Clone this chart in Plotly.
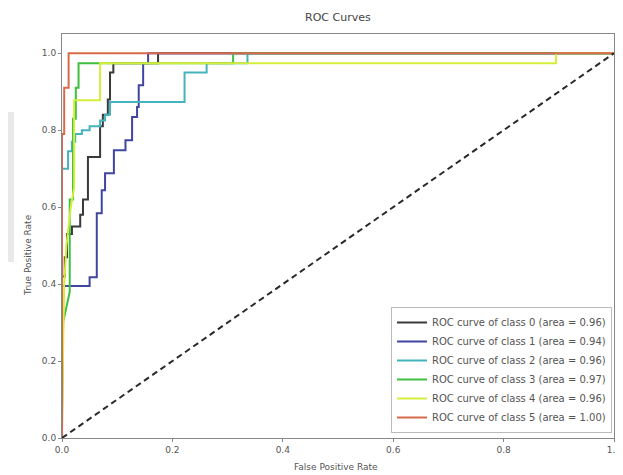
import plotly.graph_objects as go

# ---- data ----
fpr_0 = [0, 0, 0.005, 0.005, 0.009, 0.009, 0.018, 0.018, 0.033, 0.033, 0.038, 0.038, 0.047, 0.047,
         0.069, 0.069, 0.074, 0.074, 0.083, 0.083, 0.087, 0.087, 0.093, 0.093, 0.174, 0.174, 1.0]
tpr_0 = [0, 0.42, 0.42, 0.47, 0.47, 0.53, 0.53, 0.55, 0.55, 0.58, 0.58, 0.62, 0.62, 0.73,
         0.73, 0.81, 0.81, 0.84, 0.84, 0.88, 0.88, 0.95, 0.95, 0.974, 0.974, 1.0, 1.0]

fpr_1 = [0, 0, 0.05, 0.05, 0.063, 0.063, 0.072, 0.072, 0.078, 0.078, 0.094, 0.094, 0.115, 0.115,
         0.127, 0.127, 0.136, 0.136, 0.139, 0.139, 0.147, 0.147, 0.156, 0.156, 1.0]
tpr_1 = [0, 0.395, 0.395, 0.418, 0.418, 0.584, 0.584, 0.644, 0.644, 0.688, 0.688, 0.748, 0.748, 0.774,
         0.774, 0.834, 0.834, 0.86, 0.86, 0.917, 0.917, 0.974, 0.974, 1.0, 1.0]

fpr_2 = [0, 0, 0.011, 0.011, 0.018, 0.018, 0.024, 0.024, 0.036, 0.036, 0.05, 0.05, 0.069, 0.069,
         0.078, 0.078, 0.087, 0.087, 0.222, 0.222, 0.262, 0.262, 0.336, 0.336, 1.0]
tpr_2 = [0, 0.70, 0.70, 0.745, 0.745, 0.77, 0.77, 0.79, 0.79, 0.80, 0.80, 0.81, 0.81, 0.825,
         0.825, 0.84, 0.84, 0.873, 0.873, 0.95, 0.95, 0.974, 0.974, 1.0, 1.0]

fpr_3 = [0, 0.002, 0.008, 0.014, 0.014, 0.02, 0.02, 0.025, 0.025, 0.03, 0.03, 0.31, 0.31, 1.0]
tpr_3 = [0, 0.30, 0.34, 0.38, 0.62, 0.62, 0.83, 0.83, 0.91, 0.91, 0.974, 0.974, 1.0, 1.0]

fpr_4 = [0, 0, 0.004, 0.008, 0.016, 0.022, 0.022, 0.069, 0.069, 0.895, 0.895, 1.0]
tpr_4 = [0, 0.06, 0.40, 0.50, 0.60, 0.65, 0.878, 0.878, 0.974, 0.974, 1.0, 1.0]

fpr_5 = [0, 0, 0.004, 0.004, 0.012, 0.012, 1.0]
tpr_5 = [0, 0.79, 0.79, 0.91, 0.91, 1.0, 1.0]

class_labels = ["0", "1", "2", "3", "4", "5"]
areas = ["0.96", "0.94", "0.96", "0.97", "0.96", "1.00"]
diag_x = [0, 1]
diag_y = [0, 1]
tick_vals = [0.0, 0.2, 0.4, 0.6, 0.8, 1.0]
tick_text = ["0.0", "0.2", "0.4", "0.6", "0.8", "1.0"]

colors = ["#3a3a3a", "#3f45a0", "#45b3bd", "#3fbf3f", "#d5ee3c", "#d8694a"]

fprs = [fpr_0, fpr_1, fpr_2, fpr_3, fpr_4, fpr_5]
tprs = [tpr_0, tpr_1, tpr_2, tpr_3, tpr_4, tpr_5]

FONT = "DejaVu Sans"

fig = go.Figure()
for i in range(6):
    fig.add_trace(go.Scatter(
        x=fprs[i], y=tprs[i], mode="lines",
        line=dict(color=colors[i], width=2),
        name=f"ROC curve of class {class_labels[i]} (area = {areas[i]})",
    ))
fig.add_trace(go.Scatter(
    x=diag_x, y=diag_y, mode="lines",
    line=dict(color="#2a2a2a", width=2, dash="6px,4px"),
    showlegend=False, hoverinfo="skip",
))

# page body has an 8px margin: figure is drawn at screen offset (8, 8)
OFF = 8
W, H = 623 - 2 * OFF, 475 - OFF
L, R, T, B = 62 - OFF, 1, 34 - OFF, 37

def px_to_paper_x(sx):
    return (sx - OFF - L) / (W - L - R)

def px_to_paper_y(sy):
    return (H - B - (sy - OFF)) / (H - T - B)

fig.update_layout(
    width=W, height=H,
    margin=dict(l=L, r=R, t=T, b=B),
    paper_bgcolor="white", plot_bgcolor="white",
    font=dict(family=FONT, size=9, color="#555555"),
    showlegend=True,
    legend=dict(
        x=px_to_paper_x(612), xanchor="right",
        y=px_to_paper_y(433), yanchor="bottom",
        bgcolor="white", bordercolor="#bbbbbb", borderwidth=1,
        font=dict(family=FONT, size=10, color="#555555"),
        tracegroupgap=0, itemwidth=30,
    ),
    annotations=[
        dict(text="ROC Curves", x=px_to_paper_x(338), xref="paper", y=px_to_paper_y(18), yref="paper",
             showarrow=False, font=dict(family=FONT, size=11, color="#444444"),
             xanchor="center", yanchor="middle"),
        dict(text="False Positive Rate", x=px_to_paper_x(336), xref="paper",
             y=px_to_paper_y(467), yref="paper", showarrow=False,
             font=dict(family=FONT, size=9, color="#555555"), xanchor="center", yanchor="middle"),
        dict(text="True Positive Rate", x=px_to_paper_x(28), xref="paper",
             y=px_to_paper_y(255), yref="paper", showarrow=False, textangle=-90,
             font=dict(family=FONT, size=9, color="#555555"), xanchor="center", yanchor="middle"),
    ],
    shapes=[
        dict(type="rect", xref="paper", yref="paper",
             x0=px_to_paper_x(OFF), x1=px_to_paper_x(14),
             y0=px_to_paper_y(262), y1=px_to_paper_y(112),
             fillcolor="#e9e9e9", line=dict(width=0), layer="below"),
    ],
)
fig.update_xaxes(
    range=[0, 1], tickvals=tick_vals, ticktext=tick_text,
    showgrid=False, zeroline=False, automargin=False,
    showline=True, linecolor="#888888", linewidth=1, mirror=True,
    ticks="outside", ticklen=3, tickcolor="#888888",
    tickfont=dict(family=FONT, size=9, color="#555555"),
    ticklabeloverflow="allow",
)
fig.update_yaxes(
    range=[0, 1.05], tickvals=tick_vals, ticktext=tick_text,
    showgrid=False, zeroline=False, automargin=False,
    showline=True, linecolor="#888888", linewidth=1, mirror=True,
    ticks="outside", ticklen=3, tickcolor="#888888",
    tickfont=dict(family=FONT, size=9, color="#555555"),
)

fig.write_html("out.html", config={"displayModeBar": False})
